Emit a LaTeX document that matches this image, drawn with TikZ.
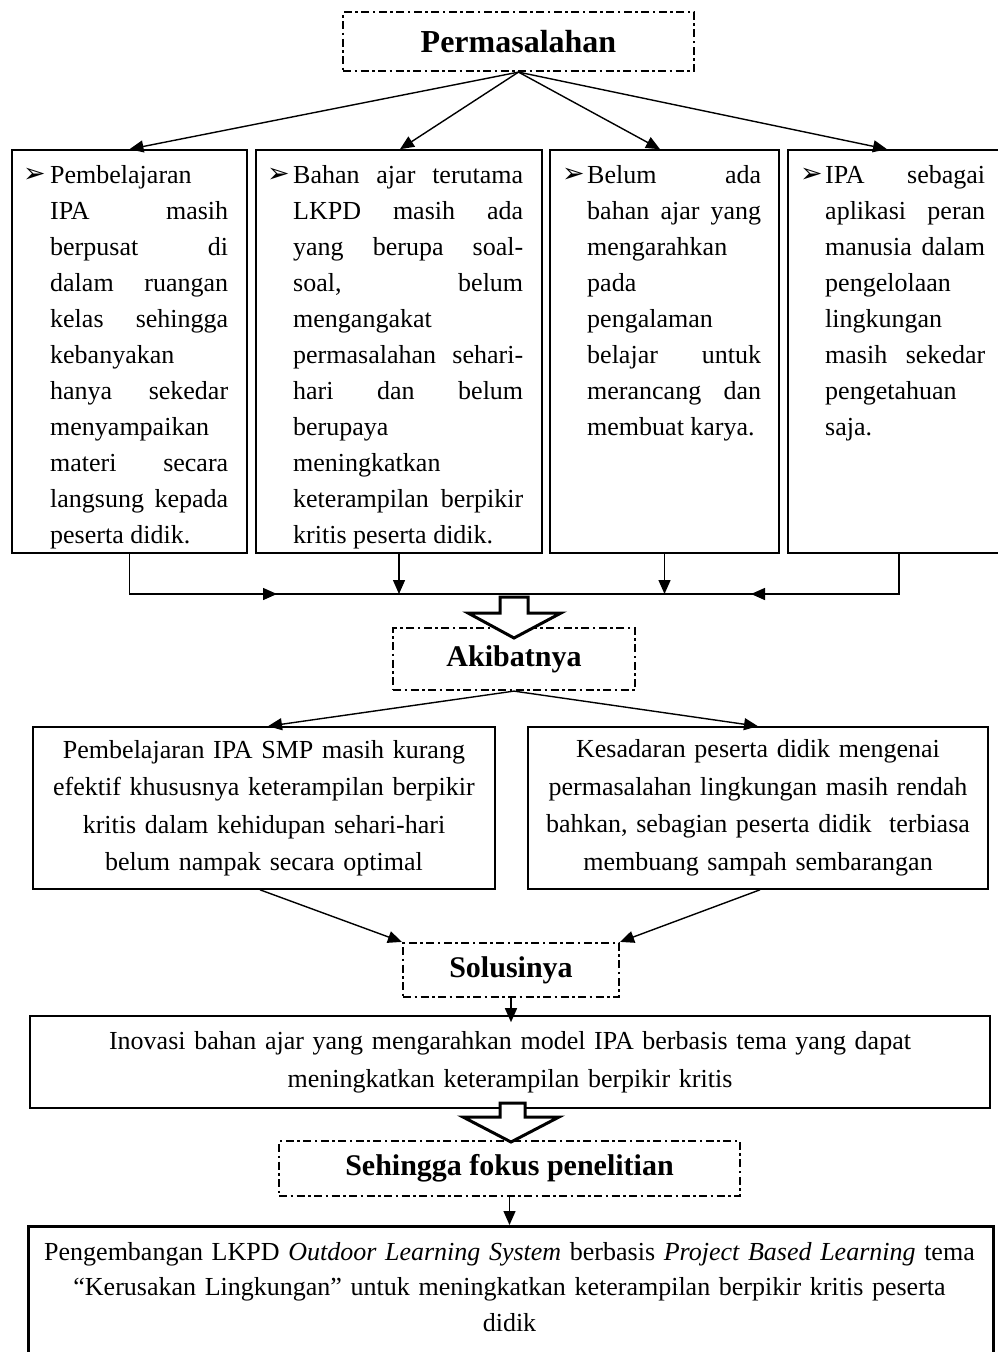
\documentclass[tikz,border=0pt]{standalone}
\usepackage{fontspec}
\setmainfont{Liberation Serif}
\newfontfamily\dingfont{DejaVu Sans}
\usetikzlibrary{arrows.meta,calc}
\tolerance=10000
\hbadness=10000
\hyphenpenalty=10000
\newcommand{\bitem}[2]{\noindent\hangindent=#1pt\hangafter=1\makebox[#1pt][l]{\rule{0pt}{24pt}\raisebox{1pt}{\dingfont\fontsize{27pt}{36pt}\selectfont ➢}}#2\par}
\begin{document}
\begin{tikzpicture}[x=1pt,y=-1pt,
  hdr/.style={draw, line width=2.2pt, dash pattern=on 8pt off 3.5pt on 2.5pt off 3.5pt, inner sep=0pt, font=\bfseries\fontsize{30pt}{36pt}\selectfont},
  box/.style={draw, line width=1.6pt, inner sep=0pt},
  body/.style={inner sep=0pt, anchor=north west, align=justify, font=\fontsize{26pt}{36pt}\selectfont},
  ctext/.style={box, align=center, font=\fontsize{26pt}{37.5pt}\selectfont},
  conn/.style={line width=1.4pt, -{Triangle[length=14pt,width=12pt]}},
  wire/.style={line width=1.4pt},
  hollow/.style={line width=3pt, fill=white, line join=miter}]
\clip (0,0) rectangle (998,1352);
\fill[white] (0,0) rectangle (998,1352);

% header
\node[hdr, minimum width=351pt, minimum height=59pt, font=\bfseries\fontsize{32pt}{36pt}\selectfont] (perm) at (518.5,41.5) {Permasalahan};

% four problem boxes
\node[box, minimum width=235pt, minimum height=403pt] (b1) at (129.5,351.5) {};
\node[box, minimum width=286pt, minimum height=403pt] (b2) at (399,351.5) {};
\node[box, minimum width=229pt, minimum height=403pt] (b3) at (664.5,351.5) {};
\node[box, minimum width=222pt, minimum height=403pt] (b4) at (899,351.5) {};

\node[body, text width=205pt] (t1) at (23,159) {\bitem{27}{Pembelajaran\linebreak IPA masih\linebreak berpusat di\linebreak dalam ruangan\linebreak kelas sehingga\linebreak kebanyakan\linebreak hanya sekedar\linebreak menyampaikan\linebreak materi secara\linebreak langsung kepada\linebreak peserta didik.}};
\node[body, text width=256pt] (t2) at (267,159) {\bitem{26}{Bahan ajar terutama\linebreak LKPD masih ada\linebreak yang berupa soal-\linebreak soal, belum\linebreak mengangakat\linebreak permasalahan sehari-\linebreak hari dan belum\linebreak berupaya\linebreak meningkatkan\linebreak keterampilan berpikir\linebreak kritis peserta didik.}};
\node[body, text width=199pt] (t3) at (562,159) {\bitem{25}{Belum ada\linebreak bahan ajar yang\linebreak mengarahkan\linebreak pada\linebreak pengalaman\linebreak belajar untuk\linebreak merancang dan\linebreak membuat karya.}};
\node[body, text width=185pt] (t4) at (800,159) {\bitem{25}{IPA sebagai\linebreak aplikasi peran\linebreak manusia dalam\linebreak pengelolaan\linebreak lingkungan\linebreak masih sekedar\linebreak pengetahuan\linebreak saja.}};

\draw[conn] (perm.south) -- (b1.north);
\draw[conn] (perm.south) -- ([xshift=1pt]b2.north);
\draw[conn] (perm.south) -- ([xshift=-4.5pt]b3.north);
\draw[conn] (perm.south) -- ([xshift=-12pt]b4.north);

% collecting line
\coordinate (hl) at (0,594);
\draw[wire] (b1.south) |- (b4.south |- hl) -- (b4.south);
\coordinate (ra) at (185,594);
\coordinate (rb) at (277,594);
\draw[conn] (ra) -- (rb);
\coordinate (la) at (840,594);
\coordinate (lb) at (751,594);
\draw[conn] (la) -- (lb);
\draw[conn] (b2.south) -- (b2.south |- hl);
\draw[conn] (b3.south) -- (b3.south |- hl);

% Akibatnya
\node[hdr, minimum width=242pt, minimum height=62pt] (akib) at (514,659) {Akibatnya};
\draw[hollow] (500,597) -- (528,597) -- (528,613) -- (561,613) -- (514,638) -- (468,613) -- (500,613) -- cycle;

\node[ctext, minimum width=462pt, minimum height=162pt, text width=455pt] (L) at (264,808) {Pembelajaran IPA SMP masih kurang\\ efektif khususnya keterampilan berpikir\\ kritis dalam kehidupan sehari-hari\\ belum nampak secara optimal};
\node[ctext, minimum width=460pt, minimum height=162pt, text width=455pt] (R) at (758,808) {Kesadaran peserta didik mengenai\\ permasalahan lingkungan masih rendah\\ bahkan, sebagian peserta didik\ \ terbiasa\\ membuang sampah sembarangan};

\draw[conn] (akib.south) -- ([xshift=4pt]L.north);
\draw[conn] (akib.south) -- (R.north);

% Solusinya
\node[hdr, minimum width=216pt, minimum height=54pt] (sol) at (511,970) {Solusinya};
\draw[conn] ([xshift=-4pt]L.south) -- (sol.north west);
\draw[conn] ([xshift=2pt]R.south) -- (sol.north east);

\node[ctext, minimum width=960pt, minimum height=92pt, text width=950pt, font=\fontsize{26pt}{38pt}\selectfont] (ino) at (510,1062) {Inovasi bahan ajar yang mengarahkan model IPA berbasis tema yang dapat\\ meningkatkan keterampilan berpikir kritis};
\draw[conn] (sol.south) -- ([yshift=-7pt]sol.south |- ino.north);

% Sehingga
\node[hdr, minimum width=461pt, minimum height=55pt] (seh) at (509.5,1168.5) {Sehingga fokus penelitian};
\draw[hollow] (500,1103) -- (525,1103) -- (525,1117) -- (559,1117) -- (511,1142) -- (463,1117) -- (500,1117) -- cycle;

\node[draw, line width=3pt, minimum width=965pt, minimum height=200pt, anchor=north west, inner sep=0pt] (fin) at (27,1225) {};
\draw[conn] (seh.south) -- (seh.south |- fin.north);
\node[inner sep=0pt, align=center, text width=950pt, anchor=north, font=\fontsize{26pt}{35.5pt}\selectfont] (ft) at (509.5,1236) {\rule{0pt}{24pt}Pengembangan LKPD \textit{Outdoor Learning System} berbasis \textit{Project Based Learning} tema\\ “Kerusakan Lingkungan” untuk meningkatkan keterampilan berpikir kritis peserta\\ didik};
\end{tikzpicture}
\end{document}
